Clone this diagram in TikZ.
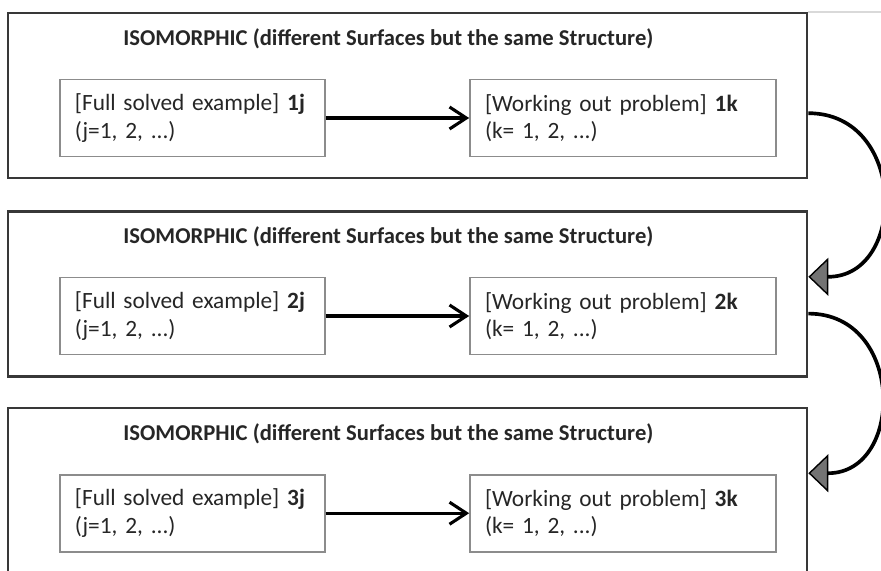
\documentclass[tikz,border=0pt]{standalone}
\usepackage{fontspec}
\setmainfont{Carlito}
\usetikzlibrary{arrows.meta}

\begin{document}
\begin{tikzpicture}[obox/.style={draw=black!78,line width=1.8pt,minimum width=19.975cm,minimum height=4.125cm},
    tnode/.style={anchor=base,inner sep=0pt,text=black!85,font=\fontsize{16.1}{19}\selectfont\bfseries},
    ibox/.style={draw=black!45,line width=1.2pt,minimum height=1.925cm,inner xsep=0.375cm,align=left,text=black!85,font=\fontsize{16.6}{19.5}\selectfont},
    harrow/.style={-{Straight Barb[length=0.42cm,width=0.55cm]},line width=2.2pt},
    carrow/.style={-{Triangle[length=0.5cm,width=0.95cm,fill=black!55,line width=1pt]},line width=2.6pt,looseness=1.55}]
    \useasboundingbox (0,0) rectangle (22.025,-14.25);
    \clip (0,0) rectangle (22.025,-14.25);
    \draw[gray!30,line width=0.8pt] (20.2,-0.3) -- (22.025,-0.3);

    \node[obox] (o1) at (10.19,-2.39) {};
    \node[obox] (o2) at (10.19,-7.35) {};
    \node[obox] (o3) at (10.19,-12.26) {};

    \node[tnode] (t1) at (9.71,-1.125) {ISOMORPHIC (different Surfaces but the same Structure)};
    \node[tnode] (t2) at (9.71,-6.075) {ISOMORPHIC (different Surfaces but the same Structure)};
    \node[tnode] (t3) at (9.71,-11.0) {ISOMORPHIC (different Surfaces but the same Structure)};

    \node[ibox,text width=5.875cm] (l1) at (4.81,-2.95) {[Full solved example] \textbf{1j}\\(j=1, 2, ...)};
    \node[ibox,text width=6.9cm] (r1) at (15.575,-2.95) {[Working out problem] \textbf{1k}\\(k= 1, 2, ...)};
    \node[ibox,text width=5.875cm] (l2) at (4.81,-7.9) {[Full solved example] \textbf{2j}\\(j=1, 2, ...)};
    \node[ibox,text width=6.9cm] (r2) at (15.575,-7.9) {[Working out problem] \textbf{2k}\\(k= 1, 2, ...)};
    \node[ibox,text width=5.875cm] (l3) at (4.81,-12.83) {[Full solved example] \textbf{3j}\\(j=1, 2, ...)};
    \node[ibox,text width=6.9cm] (r3) at (15.575,-12.83) {[Working out problem] \textbf{3k}\\(k= 1, 2, ...)};

    \draw[harrow] (l1) -- (r1);
    \draw[harrow] (l2) -- (r2);
    \draw[harrow] (l3) -- (r3);

    \draw[carrow] ([yshift=-0.44cm]o1.east) to[out=0,in=0] ([yshift=0.43cm]o2.east);
    \draw[carrow] ([yshift=-0.49cm]o2.east) to[out=0,in=0] ([yshift=0.43cm]o3.east);
\end{tikzpicture}
\end{document}
